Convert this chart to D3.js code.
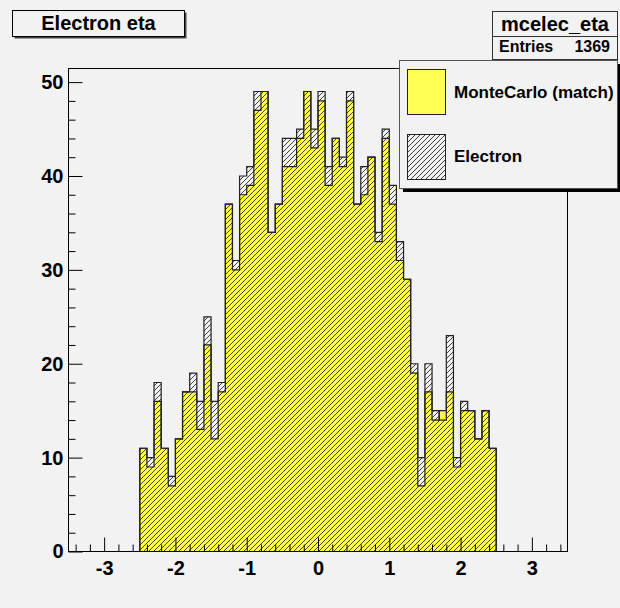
<!doctype html>
<html>
  <head>
    <meta charset="utf-8" />
    <title>Electron eta</title>
    <script type="text/javascript" src="https://cdnjs.cloudflare.com/ajax/libs/d3/7.8.5/d3.min.js"></script>
    <style>
      body {
        margin:0;
        background:#f2f2f2;
      }
      svg {
        display:block;
      }
      svg text {
        font-family:"Liberation Sans", Arial, Helvetica, sans-serif;
        font-weight:bold;
        fill:#000;
      }
    </style>
  </head>
  <body>
    <div id="chart"></div>
    <script type="text/javascript">

/*binning of the histogram: 50 bins between -2.5 and 2.5*/
var nBins = 50;
var binLow = -2.5;
var binHigh = 2.5;

/*bin contents*/
var electronCounts = [11, 10, 18, 11, 8, 12, 17, 19, 16, 25,
                      16, 18, 37, 31, 40, 41, 49, 49, 34, 37,
                      44, 44, 45, 49, 45, 49, 41, 44, 42, 49,
                      37, 41, 42, 34, 45, 39, 33, 29, 20, 10,
                      20, 15, 14, 23, 10, 16, 15, 12, 15, 11];
var mcCounts = [11, 9, 16, 11, 7, 12, 17, 17, 13, 22,
                12, 17, 37, 30, 38, 39, 47, 49, 34, 37,
                41, 41, 44, 49, 43, 48, 39, 44, 41, 48,
                37, 38, 42, 33, 44, 37, 31, 29, 19, 7,
                17, 14, 15, 17, 9, 15, 15, 12, 15, 11];

var xTickLabels = [-3, -2, -1, 0, 1, 2, 3];
var yTickLabels = [0, 10, 20, 30, 40, 50];
var legendLabels = ["MonteCarlo (match)", "Electron"];
var histTitle = "Electron eta";
var statsName = "mcelec_eta";
var statsEntries = 1369;

var g = {};
g.width = 620;
g.height = 608;
g.frame = {left: 68.5, right: 567.5, top: 68.5, bottom: 551.5};
g.bg = "#f2f2f2";

function main() {
  g.svg = d3.select("#chart").append("svg")
    .attr("width", g.width)
    .attr("height", g.height);

  g.svg.append("rect")
    .attr("width", g.width)
    .attr("height", g.height)
    .attr("fill", g.bg);

  /*ROOT style 3004 hatch: thin "/" lines, transparent background*/
  var pat = g.svg.append("defs").append("pattern")
    .attr("id", "hatch")
    .attr("patternUnits", "userSpaceOnUse")
    .attr("width", 5)
    .attr("height", 5);
  pat.append("path")
    .attr("d", "M-1,1 l2,-2 M0,5 l5,-5 M4,6 l2,-2")
    .attr("stroke", "#111")
    .attr("stroke-width", 0.8);

  g.x = d3.scaleLinear().domain([-3.5, 3.5]).range([g.frame.left, g.frame.right]);
  g.y = d3.scaleLinear().domain([0, 51.45]).range([g.frame.bottom, g.frame.top]);

  g.edges = d3.range(nBins + 1).map(function(i) {
    return binLow + i * (binHigh - binLow) / nBins;
  });

  draw_histograms();
  draw_axes();
  draw_boxes();
}

/*points for a step curve: one per bin left edge plus the last right edge*/
function step_points(counts) {
  var pts = counts.map(function(c, i) { return [g.edges[i], c]; });
  pts.push([g.edges[nBins], counts[nBins - 1]]);
  return pts;
}

function draw_histograms() {
  var x = g.x, y = g.y;

  var area = d3.area()
    .curve(d3.curveStepAfter)
    .x(function(d) { return x(d[0]); })
    .y0(y(0))
    .y1(function(d) { return y(d[1]); });

  var line = d3.line()
    .curve(d3.curveStepAfter)
    .x(function(d) { return x(d[0]); })
    .y(function(d) { return y(d[1]); });

  function outline_points(counts) {
    return [[g.edges[0], 0]].concat(step_points(counts), [[g.edges[nBins], 0]]);
  }

  /*MonteCarlo: solid yellow*/
  g.svg.append("path")
    .attr("d", area(step_points(mcCounts)))
    .attr("fill", "#ffff44");
  g.svg.append("path")
    .attr("d", line(outline_points(mcCounts)))
    .attr("fill", "none")
    .attr("stroke", "#222")
    .attr("stroke-width", 1.2);

  /*Electron drawn "same" on top with hatch*/
  g.svg.append("path")
    .attr("d", area(step_points(electronCounts)))
    .attr("fill", "url(#hatch)");
  g.svg.append("path")
    .attr("d", line(outline_points(electronCounts)))
    .attr("fill", "none")
    .attr("stroke", "#222")
    .attr("stroke-width", 1.2);
}

function draw_axes() {
  var x = g.x, y = g.y, f = g.frame;

  var xMinor = d3.range(-34, 35, 2).filter(function(v) { return v % 10 !== 0; })
    .map(function(v) { return v / 10; });
  var yMinor = d3.range(2, 51, 2).filter(function(v) { return v % 10 !== 0; });

  function style_axis(sel) {
    sel.select(".domain").remove();
    sel.attr("font-size", 20)
      .attr("font-family", "'Liberation Sans', Arial, sans-serif");
    sel.selectAll("line").attr("stroke", "#000");
  }

  g.svg.append("g")
    .attr("transform", "translate(0," + f.bottom + ")")
    .call(d3.axisBottom(x).tickValues(xTickLabels).tickSize(-14).tickSizeOuter(0)
      .tickPadding(9).tickFormat(function(d) { return String(d); }))
    .call(style_axis);
  g.svg.append("g")
    .attr("transform", "translate(0," + f.bottom + ")")
    .call(d3.axisBottom(x).tickValues(xMinor).tickSize(-7).tickSizeOuter(0).tickFormat(""))
    .call(style_axis);

  g.svg.append("g")
    .attr("transform", "translate(" + f.left + ",0)")
    .call(d3.axisLeft(y).tickValues(yTickLabels).tickSize(-14).tickSizeOuter(0)
      .tickPadding(5).tickFormat(function(d) { return String(d); }))
    .call(style_axis);
  g.svg.append("g")
    .attr("transform", "translate(" + f.left + ",0)")
    .call(d3.axisLeft(y).tickValues(yMinor).tickSize(-7).tickSizeOuter(0).tickFormat(""))
    .call(style_axis);

  /*frame*/
  g.svg.append("rect")
    .attr("x", f.left)
    .attr("y", f.top)
    .attr("width", f.right - f.left)
    .attr("height", f.bottom - f.top)
    .attr("fill", "none")
    .attr("stroke", "#000")
    .attr("stroke-width", 1);
}

function draw_boxes() {
  var svg = g.svg;

  /*title box with shadow*/
  svg.append("rect").attr("x", 14.5).attr("y", 12.5).attr("width", 172).attr("height", 26)
    .attr("fill", "#444");
  svg.append("rect").attr("x", 12.5).attr("y", 10.5).attr("width", 172).attr("height", 26)
    .attr("fill", g.bg).attr("stroke", "#000");
  svg.append("text").attr("x", 98.5).attr("y", 30).attr("text-anchor", "middle")
    .attr("font-size", 20).text(histTitle);

  /*stats box*/
  svg.append("rect").attr("x", 492.5).attr("y", 11.5).attr("width", 125).attr("height", 48)
    .attr("fill", g.bg).attr("stroke", "#333");
  svg.append("line").attr("x1", 492.5).attr("x2", 617.5).attr("y1", 36.5).attr("y2", 36.5)
    .attr("stroke", "#333");
  svg.append("text").attr("x", 555).attr("y", 31).attr("text-anchor", "middle")
    .attr("font-size", 20).text(statsName);
  svg.append("text").attr("x", 499).attr("y", 52).attr("font-size", 16).text("Entries");
  svg.append("text").attr("x", 610).attr("y", 52).attr("text-anchor", "end")
    .attr("font-size", 16).text(statsEntries);

  /*legend with shadow*/
  svg.append("rect").attr("x", 403).attr("y", 64).attr("width", 219).attr("height", 128)
    .attr("fill", "#000");
  svg.append("rect").attr("x", 399.5).attr("y", 60.5).attr("width", 218).attr("height", 128)
    .attr("fill", g.bg).attr("stroke", "#555");

  svg.append("rect").attr("x", 407.5).attr("y", 69.5).attr("width", 38).attr("height", 45)
    .attr("fill", "#ffff55").attr("stroke", "#222");
  svg.append("rect").attr("x", 407.5).attr("y", 134.5).attr("width", 38).attr("height", 45)
    .attr("fill", "url(#hatch)").attr("stroke", "#222");

  svg.append("text").attr("x", 454).attr("y", 98).attr("font-size", 17).text(legendLabels[0]);
  svg.append("text").attr("x", 454).attr("y", 162).attr("font-size", 17).text(legendLabels[1]);
}

document.addEventListener("DOMContentLoaded", main);

    </script>
  </body>
</html>
